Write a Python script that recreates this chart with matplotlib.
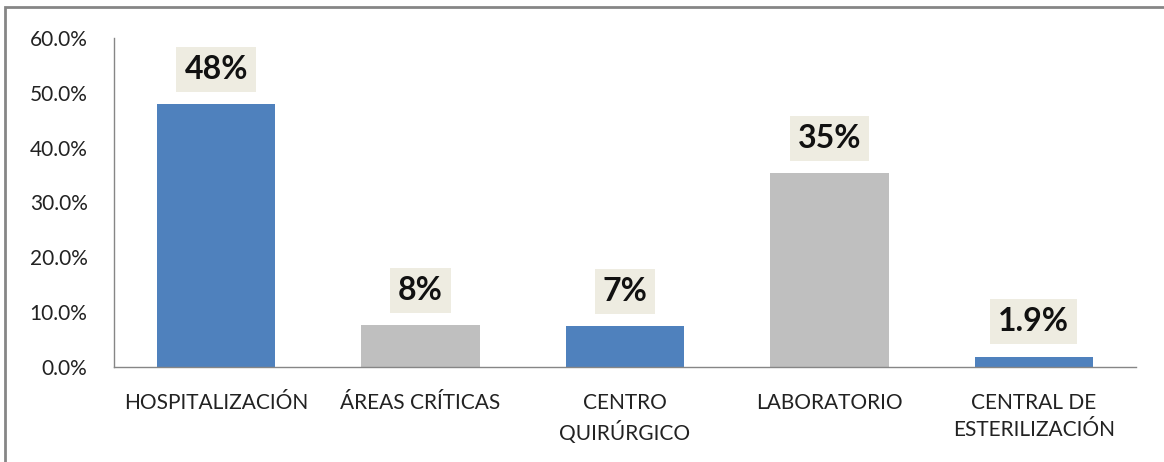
import matplotlib
matplotlib.use("Agg")
import matplotlib.pyplot as plt
from matplotlib.patches import Rectangle
from matplotlib.ticker import FuncFormatter

# data
categories = ["HOSPITALIZACIÓN", "ÁREAS CRÍTICAS", "CENTRO\nQUIRÚRGICO",
              "LABORATORIO", "CENTRAL DE\nESTERILIZACIÓN"]
values = [48.0, 7.7, 7.4, 35.4, 1.9]
labels = ["48%", "8%", "7%", "35%", "1.9%"]
colors = ["#4F81BD", "#BFBFBF", "#4F81BD", "#BFBFBF", "#4F81BD"]

plt.rcParams["font.family"] = ["Lato", "DejaVu Sans"]

fig = plt.figure(figsize=(11.64, 4.62), dpi=100)
ax = fig.add_axes([114 / 1164, 1 - 367 / 462, 1022 / 1164, 329 / 462])

x = range(len(categories))
ax.bar(x, values, width=0.58, color=colors, zorder=2)

for xi, v, lab in zip(x, values, labels):
    ax.annotate(lab, (xi, v), xytext=(0, 25), textcoords="offset points",
                ha="center", va="center", fontsize=23, fontweight="bold",
                color="#111111",
                bbox=dict(boxstyle="square,pad=0.25", fc="#EEECE1", ec="none"))

ax.set_xlim(-0.5, len(categories) - 0.5)
ax.set_ylim(0, 60)
ax.set_yticks(range(0, 61, 10))
ax.yaxis.set_major_formatter(FuncFormatter(lambda v, _: f"{v:.1f}%"))
ax.set_xticks(list(x))
ax.set_xticklabels(categories, va="top", linespacing=1.4)
ax.tick_params(axis="both", length=0, labelsize=15, colors="#222222")
ax.tick_params(axis="y", pad=19)
ax.tick_params(axis="x", pad=19)
for s in ["top", "right"]:
    ax.spines[s].set_visible(False)
for s in ["left", "bottom"]:
    ax.spines[s].set_color("#868686")
    ax.spines[s].set_linewidth(1.0)

# outer chart border (only top and left edges fall inside the picture)
fig.patches.append(Rectangle((5 / 1164, -0.1), 1.2, 1.1 - 7 / 462,
                             transform=fig.transFigure, fill=False,
                             ec="#868686", lw=2, clip_on=False))

fig.savefig("out.png", dpi=100)
